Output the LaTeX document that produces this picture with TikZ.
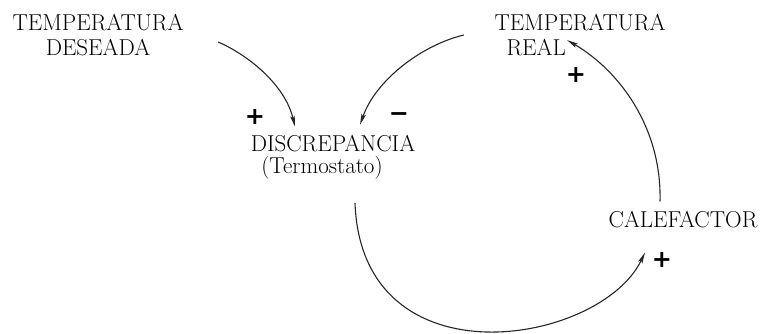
\documentclass[tikz,border=0pt]{standalone}
\usepackage{fontspec}
\newfontfamily\signfont{DejaVu Sans}
\usetikzlibrary{positioning,arrows.meta}

\begin{document}
\begin{tikzpicture}[
      x=1pt, y=-1pt,
      every node/.style={align=center, inner sep=3pt,
                         font=\fontsize{23}{25}\selectfont},
      var/.style={},
      sign/.style={inner sep=0pt, font=\signfont\bfseries\fontsize{24}{24}\selectfont},
      link/.style={-{Stealth[length=11pt, width=4.5pt, inset=2pt]},
                   line width=1.1pt, draw=black!85},
  ]
    \useasboundingbox (0,0) rectangle (767,333);

    %% --- Variables ---
    \node[var] (des) at (98,35) {TEMPERATURA\\DESEADA};
    \node[var, align=left] (real) at (580,35) {TEMPERATURA\\\hspace*{12pt}REAL};
    \node[var, font=\fontsize{23}{22}\selectfont] (disc) at (333,157)
      {DISCREPANCIA\\(Termostato)\hspace*{22pt}};
    \node[var] (cal) at (683,220) {CALEFACTOR};

    %% --- Causal links ---
    \draw[link] ([shift={(31.5,7)}]des.east)
      .. controls +(30,13) and +(-10,-42) .. ([shift={(-38,-5)}]disc.north);
    \draw[link] ([shift={(-27.5,0)}]real.west)
      .. controls +(-42,10) and +(16,-45) .. ([shift={(27,-7)}]disc.north);
    \draw[link] ([shift={(22,21)}]disc.south)
      .. controls +(7,182) and +(-45,93) .. ([shift={(-38,21)}]cal.south);
    \draw[link] ([shift={(-23,-7)}]cal.north)
      .. controls +(2,-73) and +(53,31) .. ([shift={(-13,-19)}]real.south);

    %% --- Signs ---
    \node[sign] (s1) at (255,117) {+};
    \node[sign] (s2) at (399,117) {−};
    \node[sign] (s3) at (576,75) {+};
    \node[sign] (s4) at (662,260) {+};
  \end{tikzpicture}
\end{document}
